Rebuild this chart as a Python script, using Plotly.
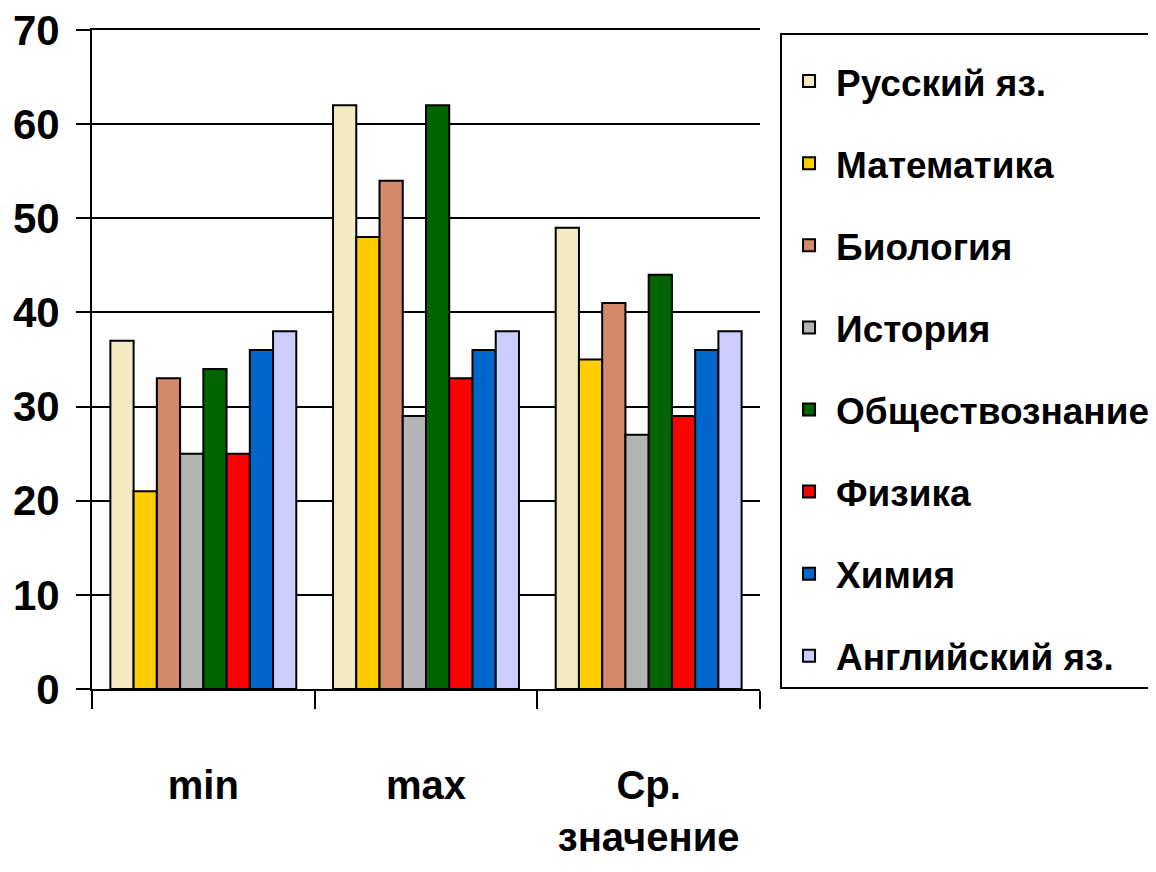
import plotly.graph_objects as go

categories = ["min", "max", "Ср.<br>значение"]
subjects = ["Русский яз.", "Математика", "Биология", "История",
            "Обществознание", "Физика", "Химия", "Английский яз."]
values = {
    "Русский яз.":    [37, 62, 49],
    "Математика":     [21, 48, 35],
    "Биология":       [33, 54, 41],
    "История":        [25, 29, 27],
    "Обществознание": [34, 62, 44],
    "Физика":         [25, 33, 29],
    "Химия":          [36, 36, 36],
    "Английский яз.": [38, 38, 38],
}
colors = ["#F2EAC2", "#FFCC00", "#D4886C", "#B3B3B3",
          "#006400", "#FF0000", "#0066CC", "#CCCCFF"]
y_ticks = [0, 10, 20, 30, 40, 50, 60, 70]

FONT = "Liberation Sans, Arial, sans-serif"

fig = go.Figure()
for name, col in zip(subjects, colors):
    fig.add_trace(go.Bar(
        x=categories, y=values[name], name=name, legendgroup=name,
        marker=dict(color=col, line=dict(color="black", width=2)),
    ))

fig.update_layout(
    width=1156, height=872,
    margin=dict(l=84, r=404, t=22, b=191, autoexpand=False),
    paper_bgcolor="white", plot_bgcolor="white",
    barmode="group", bargap=0.165, bargroupgap=0,
    font=dict(family=FONT, size=40, color="black"),
    showlegend=True,
    legend=dict(
        x=1.03, y=0.9955, xanchor="left", yanchor="top",
        bordercolor="black", borderwidth=2, bgcolor="white",
        font=dict(family=FONT, size=37, color="black", weight="bold"),
        title=dict(text=" ", font=dict(size=12)),
        tracegroupgap=31, maxheight=800, itemwidth=44,
    ),
)
fig.update_xaxes(
    type="category", showgrid=False, showline=True, linecolor="black", linewidth=2,
    mirror=True,
    ticks="outside", tickson="boundaries", ticklen=18, tickwidth=2, tickcolor="black",
    tickfont=dict(family=FONT, size=40, color="black", weight="bold"),
    tickangle=0, ticklabelstandoff=60, automargin=False,
    range=[-0.5, 2.5],
)
fig.update_yaxes(
    range=[0, 70], tickvals=y_ticks, showgrid=True, gridcolor="black", gridwidth=2,
    showline=True, linecolor="black", linewidth=2, zeroline=False,
    ticks="outside", ticklen=14, tickwidth=2, tickcolor="black",
    tickfont=dict(family=FONT, size=42, color="black", weight="bold"),
    ticklabelstandoff=8, automargin=False, ticklabeloverflow="allow",
)

fig.write_html("out.html")
